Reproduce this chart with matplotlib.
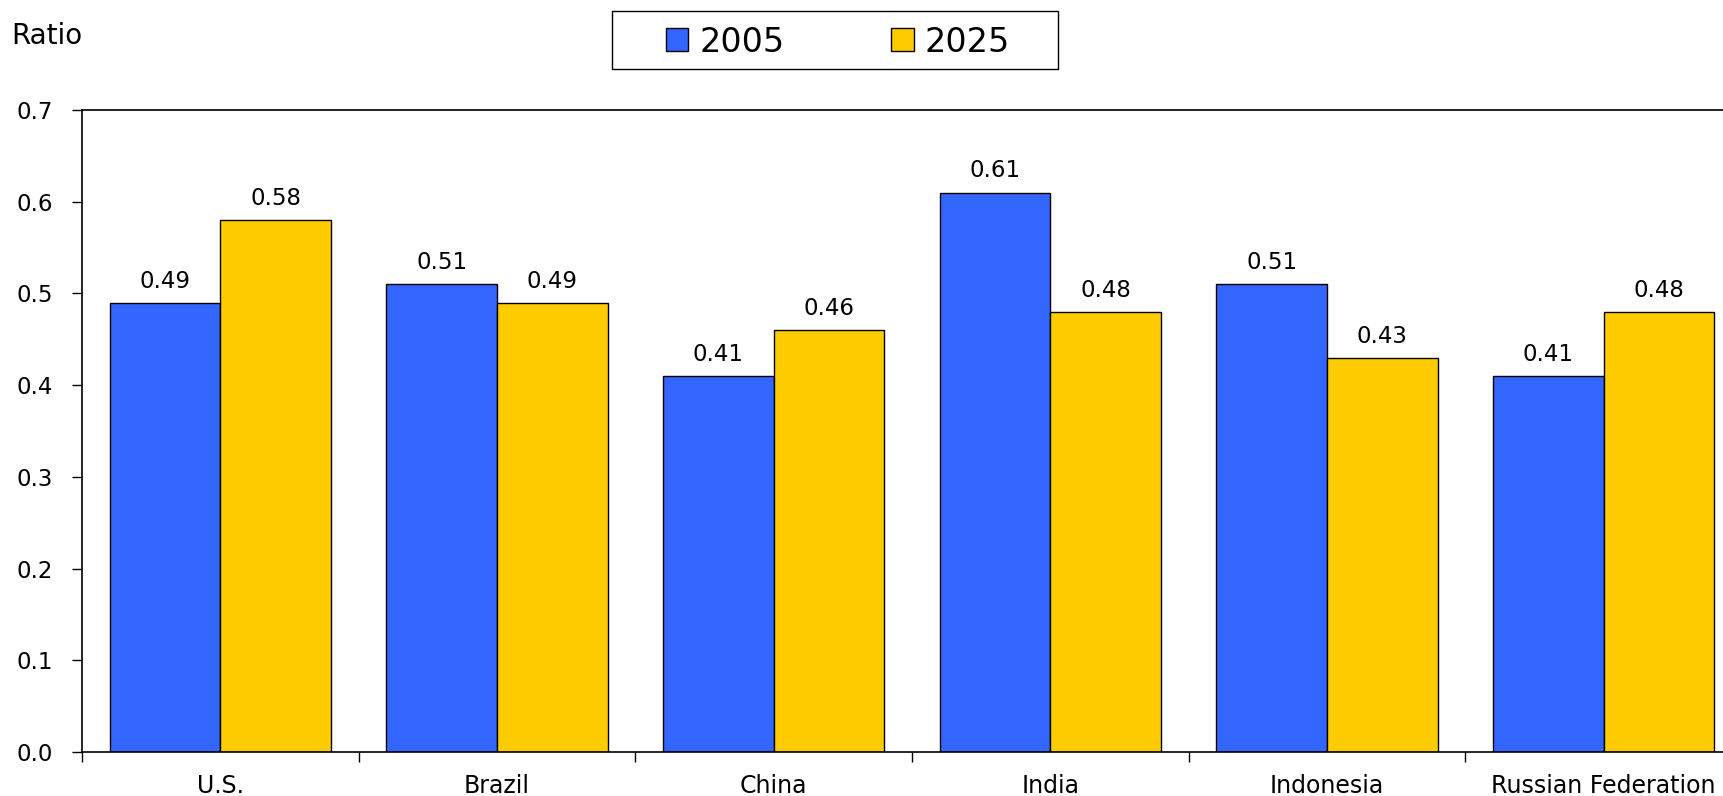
import numpy as np
import matplotlib
matplotlib.use("Agg")
import matplotlib.pyplot as plt
from matplotlib.patches import Patch, Rectangle

plt.rcParams['font.family'] = ['DejaVu Sans']

# Данные
countries = ['U.S.', 'Brazil', 'China', 'India', 'Indonesia', 'Russian Federation']
vals_2005 = [0.49, 0.51, 0.41, 0.61, 0.51, 0.41]
vals_2025 = [0.58, 0.49, 0.46, 0.48, 0.43, 0.48]
series_names = ['2005', '2025']
yticks = [0.0, 0.1, 0.2, 0.3, 0.4, 0.5, 0.6, 0.7]

blue = '#3366FF'
yellow = '#FFCC00'
W, H = 1724, 796

fig = plt.figure(figsize=(W / 100, H / 100), dpi=100)
# правая граница оси выходит за край рисунка, как в оригинале
ax = fig.add_axes([82 / W, 1 - 752 / H, (1742 - 82) / W, (752 - 110) / H])

x = np.arange(len(countries))
w = 0.4
b1 = ax.bar(x - w / 2, vals_2005, w, color=blue, edgecolor='black', linewidth=1.0)
b2 = ax.bar(x + w / 2, vals_2025, w, color=yellow, edgecolor='black', linewidth=1.0)

for bars, vals in ((b1, vals_2005), (b2, vals_2025)):
    for rect, v in zip(bars, vals):
        ax.text(rect.get_x() + rect.get_width() / 2, v + 0.011, f'{v:.2f}',
                ha='center', va='bottom', fontsize=16.5)

ax.set_xlim(-0.5, len(countries) - 0.5)
ax.set_ylim(0, 0.7)
ax.set_yticks(yticks)
ax.set_yticklabels([f'{t:.1f}' for t in yticks], fontsize=16.5)
ax.tick_params(axis='y', direction='out', length=7, width=1, pad=14)

# засечки между категориями, подписи по центру
ax.set_xticks(np.arange(len(countries) + 1) - 0.5)
ax.set_xticklabels([])
ax.set_xticks(x, minor=True)
ax.set_xticklabels(countries, minor=True, fontsize=17)
ax.tick_params(axis='x', which='major', direction='out', length=7, width=1)
ax.tick_params(axis='x', which='minor', length=0, pad=16)

for s in ax.spines.values():
    s.set_linewidth(1.2)

fig.text(11 / W, 1 - 36 / H, 'Ratio', fontsize=20, va='center', ha='left')

# рамка легенды рисуется отдельно
fig.add_artist(Rectangle((612 / W, 1 - 69 / H), (1058 - 612) / W, (69 - 11) / H,
                         transform=fig.transFigure, facecolor='white', edgecolor='black',
                         linewidth=1.0))
handles = [Patch(facecolor=blue, edgecolor='black'), Patch(facecolor=yellow, edgecolor='black')]
leg = fig.legend(handles, series_names, loc='center', bbox_to_anchor=(838 / W, 1 - 42 / H),
                 ncol=2, fontsize=24, frameon=False,
                 handlelength=0.67, handleheight=0.67, handletextpad=0.33, columnspacing=3.2,
                 borderpad=0, borderaxespad=0)

fig.savefig('out.png', dpi=100)
